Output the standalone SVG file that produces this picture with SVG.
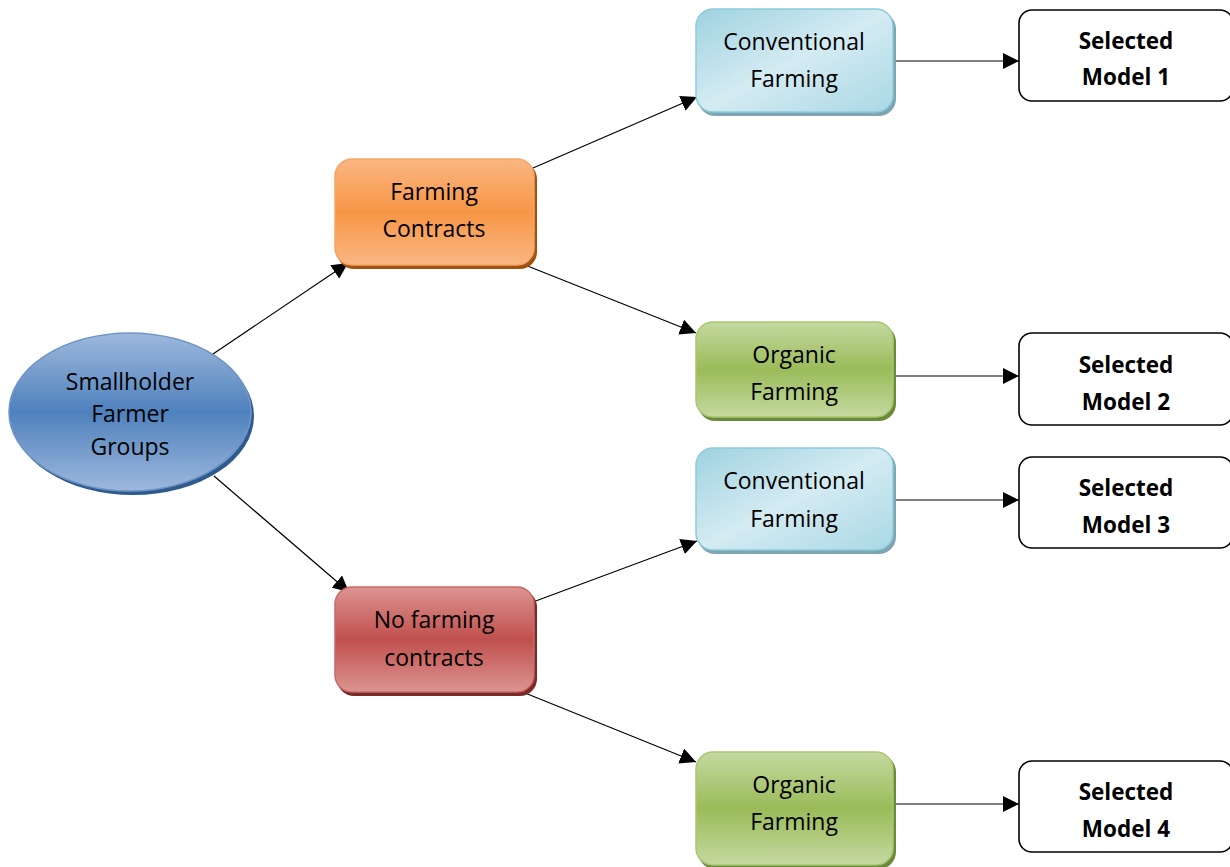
<svg xmlns="http://www.w3.org/2000/svg" width="1230" height="867" viewBox="0 0 1230 867">
  <defs>
    <linearGradient id="gBlue" x1="0" y1="0" x2="0" y2="1">
      <stop offset="0" stop-color="#9db8dc"/>
      <stop offset="0.5" stop-color="#4f81bd"/>
      <stop offset="1" stop-color="#9db8dc"/>
    </linearGradient>
    <linearGradient id="gOrange" x1="0" y1="0" x2="0" y2="1">
      <stop offset="0" stop-color="#fab682"/>
      <stop offset="0.5" stop-color="#f79646"/>
      <stop offset="1" stop-color="#fab682"/>
    </linearGradient>
    <linearGradient id="gRed" x1="0" y1="0" x2="0" y2="1">
      <stop offset="0" stop-color="#dc9492"/>
      <stop offset="0.5" stop-color="#c0504d"/>
      <stop offset="1" stop-color="#dc9492"/>
    </linearGradient>
    <linearGradient id="gGreen" x1="0" y1="0" x2="0" y2="1">
      <stop offset="0" stop-color="#c4d9a0"/>
      <stop offset="0.5" stop-color="#9bbb59"/>
      <stop offset="1" stop-color="#c4d9a0"/>
    </linearGradient>
    <linearGradient id="gCyan" x1="0" y1="0" x2="1" y2="1">
      <stop offset="0" stop-color="#9ed2e0"/>
      <stop offset="0.5" stop-color="#d4ebf2"/>
      <stop offset="1" stop-color="#a9d8e5"/>
    </linearGradient>
    <marker id="arrow" viewBox="0 0 10 10" refX="10" refY="5" markerWidth="16" markerHeight="16" markerUnits="userSpaceOnUse" orient="auto">
      <path d="M0,0 L10,5 L0,10 z" fill="#000"/>
    </marker>
    <style>
      .lbl { font-family: "Open Sans", "Noto Sans", "Liberation Sans", sans-serif; font-size: 23px; fill: #000; text-anchor: middle; }
      .sel { font-family: "Open Sans", "Noto Sans", "Liberation Sans", sans-serif; font-size: 22.5px; font-weight: bold; fill: #000; text-anchor: middle; }
      .conn { stroke: #000; stroke-width: 1.2; fill: none; marker-end: url(#arrow); }
      .box-sel { fill: #fff; stroke: #000; stroke-width: 1.6; }
    </style>
  </defs>

  <!-- connectors -->
  <g id="connectors">
    <line class="conn" x1="213" y1="354" x2="348" y2="263"/>
    <line class="conn" x1="214" y1="476" x2="349" y2="592"/>
    <line class="conn" x1="533" y1="168" x2="697" y2="97"/>
    <line class="conn" x1="525" y1="265" x2="696" y2="333"/>
    <line class="conn" x1="533" y1="602" x2="697" y2="541"/>
    <line class="conn" x1="525" y1="693" x2="696" y2="762"/>
    <line class="conn" x1="893" y1="61" x2="1019" y2="61"/>
    <line class="conn" x1="893" y1="376" x2="1019" y2="376"/>
    <line class="conn" x1="893" y1="500" x2="1019" y2="500"/>
    <line class="conn" x1="893" y1="804" x2="1019" y2="804"/>
  </g>

  <!-- root ellipse -->
  <g id="smallholder">
    <ellipse cx="133" cy="416" rx="121" ry="79" fill="#2f5a8e"/>
    <ellipse cx="130" cy="412" rx="121" ry="79" fill="url(#gBlue)" stroke="#6f95c6" stroke-width="1.5"/>
    <text class="lbl" x="130" y="390">Smallholder</text>
    <text class="lbl" x="130" y="422">Farmer</text>
    <text class="lbl" x="130" y="455">Groups</text>
  </g>

  <g id="farming-contracts">
    <rect x="337" y="162" width="200" height="107" rx="17" fill="#a4520f"/>
    <rect x="335" y="159" width="199" height="106" rx="17" fill="url(#gOrange)" stroke="#f4a66a" stroke-width="1.5"/>
    <text class="lbl" x="434" y="200">Farming</text>
    <text class="lbl" x="434" y="237">Contracts</text>
  </g>

  <g id="no-farming-contracts">
    <rect x="337" y="590" width="200" height="106" rx="17" fill="#7a2a28"/>
    <rect x="335" y="587" width="199" height="105" rx="17" fill="url(#gRed)" stroke="#c86967" stroke-width="1.5"/>
    <text class="lbl" x="434" y="628">No farming</text>
    <text class="lbl" x="434" y="666">contracts</text>
  </g>

  <g id="conventional-1">
    <rect x="698" y="12" width="198" height="104" rx="17" fill="#7fa5b2"/>
    <rect x="696" y="9" width="197" height="103" rx="17" fill="url(#gCyan)" stroke="#8ccbdc" stroke-width="1.5"/>
    <text class="lbl" x="794" y="50">Conventional</text>
    <text class="lbl" x="794" y="87">Farming</text>
  </g>

  <g id="organic-1">
    <rect x="698" y="325" width="198" height="96" rx="17" fill="#6b8a3a"/>
    <rect x="696" y="322" width="197" height="95" rx="17" fill="url(#gGreen)" stroke="#a9c66f" stroke-width="1.5"/>
    <text class="lbl" x="794" y="363">Organic</text>
    <text class="lbl" x="794" y="400">Farming</text>
  </g>

  <g id="conventional-2">
    <rect x="698" y="451" width="198" height="103" rx="17" fill="#7fa5b2"/>
    <rect x="696" y="448" width="197" height="102" rx="17" fill="url(#gCyan)" stroke="#8ccbdc" stroke-width="1.5"/>
    <text class="lbl" x="794" y="489">Conventional</text>
    <text class="lbl" x="794" y="527">Farming</text>
  </g>

  <g id="organic-2">
    <rect x="698" y="755" width="198" height="114" rx="17" fill="#6b8a3a"/>
    <rect x="696" y="752" width="197" height="113" rx="17" fill="url(#gGreen)" stroke="#a9c66f" stroke-width="1.5"/>
    <text class="lbl" x="794" y="793">Organic</text>
    <text class="lbl" x="794" y="830">Farming</text>
  </g>

  <g id="selected-1">
    <rect class="box-sel" x="1019" y="10" width="214" height="91" rx="13"/>
    <text class="sel" x="1126" y="49">Selected</text>
    <text class="sel" x="1126" y="85">Model 1</text>
  </g>

  <g id="selected-2">
    <rect class="box-sel" x="1019" y="333" width="214" height="92" rx="13"/>
    <text class="sel" x="1126" y="373">Selected</text>
    <text class="sel" x="1126" y="410">Model 2</text>
  </g>

  <g id="selected-3">
    <rect class="box-sel" x="1019" y="457" width="214" height="91" rx="13"/>
    <text class="sel" x="1126" y="496">Selected</text>
    <text class="sel" x="1126" y="533">Model 3</text>
  </g>

  <g id="selected-4">
    <rect class="box-sel" x="1019" y="761" width="214" height="91" rx="13"/>
    <text class="sel" x="1126" y="800">Selected</text>
    <text class="sel" x="1126" y="837">Model 4</text>
  </g>
</svg>
